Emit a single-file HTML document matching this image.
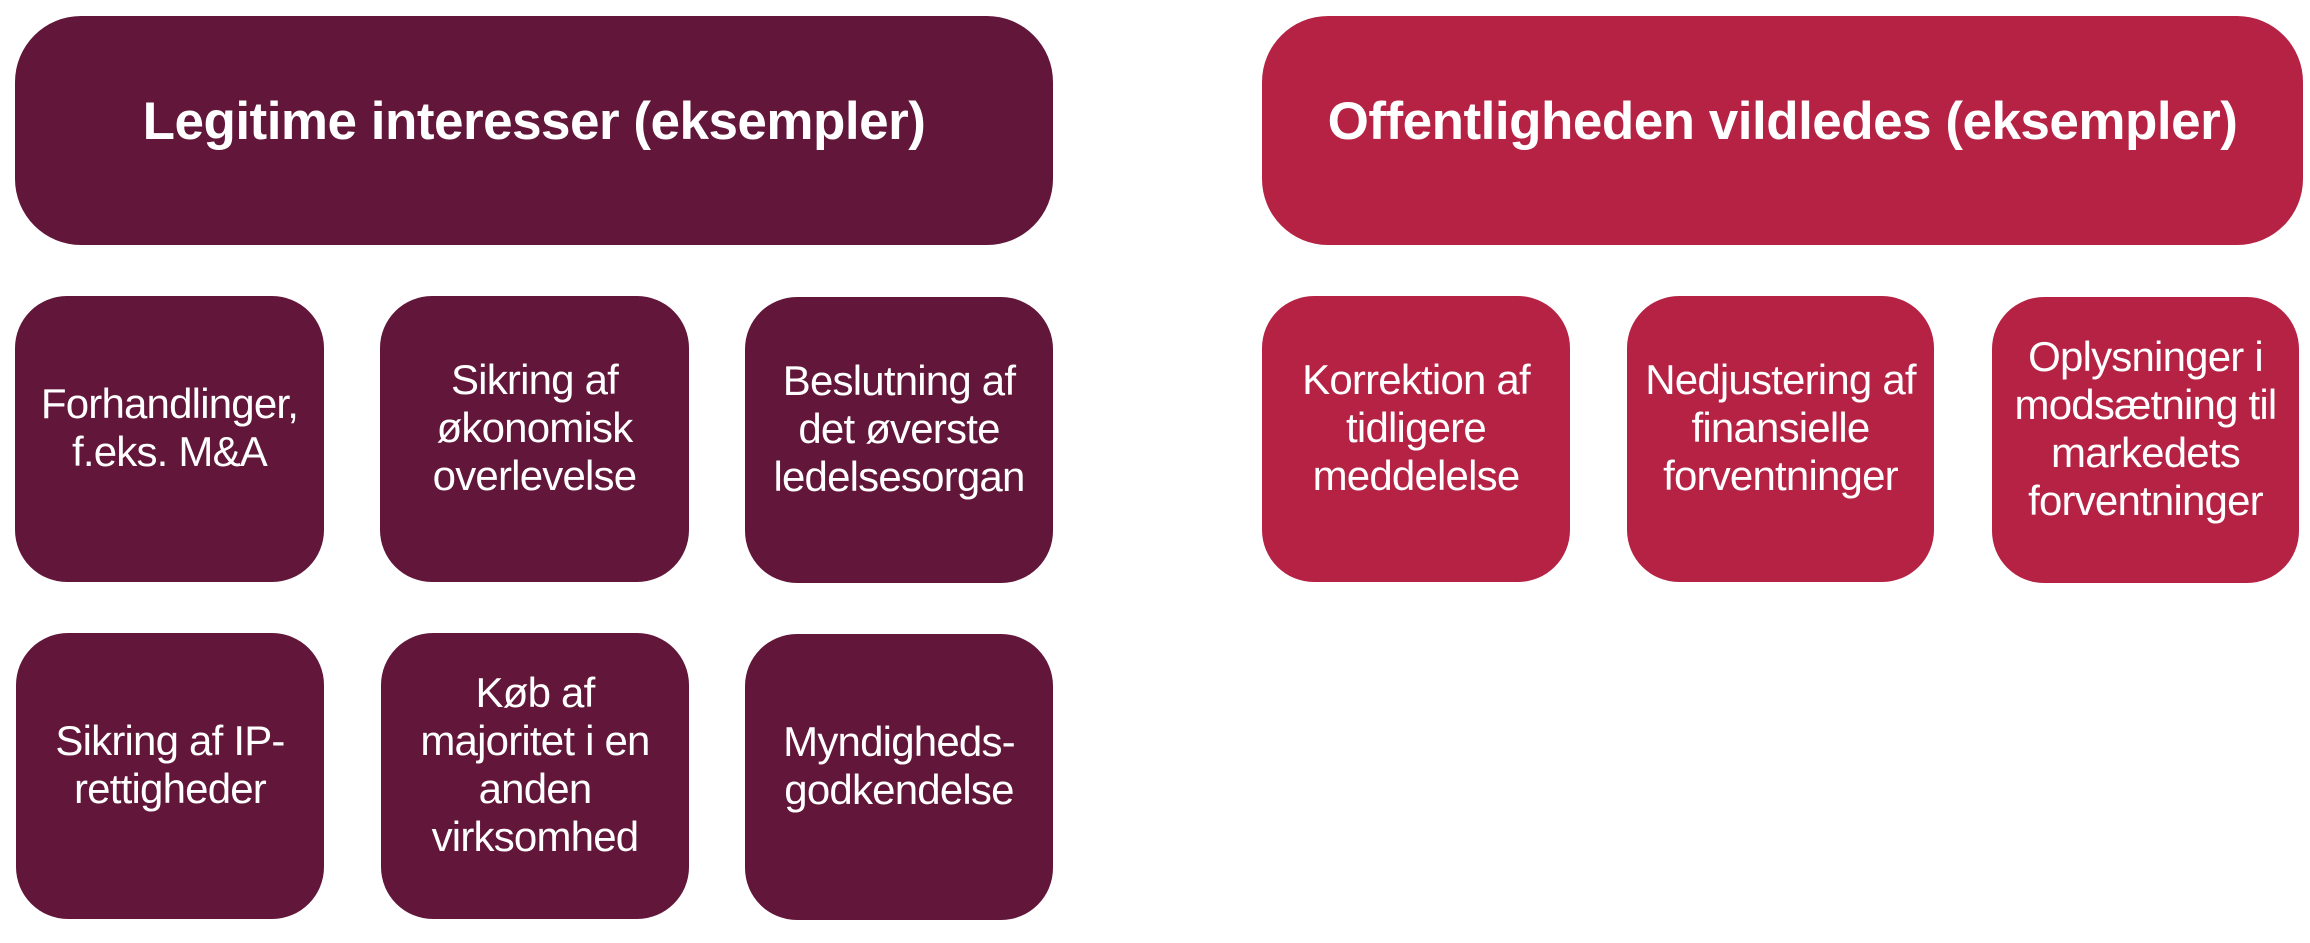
<!DOCTYPE html>
<html><head><meta charset="utf-8"><style>
body{margin:0;width:2310px;height:943px;background:#fff;position:relative;overflow:hidden;font-family:"Liberation Sans",sans-serif;}
.b{position:absolute;display:flex;align-items:center;justify-content:center;text-align:center;color:#fff;box-sizing:border-box;}
.d{background:#62163a}.r{background:#b52244}
.h{font-weight:bold;font-size:53px;border-radius:66px;padding-bottom:18px;letter-spacing:-0.5px;white-space:nowrap}
.s{font-size:42px;line-height:48px;border-radius:52px;padding:0 6px 22px 6px;letter-spacing:-0.8px;white-space:nowrap}
</style></head><body>
<div class="b d h" style="left:15px;top:16px;width:1038px;height:229px">Legitime interesser (eksempler)</div>
<div class="b r h" style="left:1262px;top:16px;width:1041px;height:229px">Offentligheden vildledes (eksempler)</div>

<div class="b d s" style="left:15px;top:296px;width:309px;height:286px">Forhandlinger,<br>f.eks. M&amp;A</div>
<div class="b d s" style="left:380px;top:296px;width:309px;height:286px">Sikring af<br>økonomisk<br>overlevelse</div>
<div class="b d s" style="left:745px;top:297px;width:308px;height:286px">Beslutning af<br>det øverste<br>ledelsesorgan</div>

<div class="b d s" style="left:16px;top:633px;width:308px;height:286px">Sikring af IP-<br>rettigheder</div>
<div class="b d s" style="left:381px;top:633px;width:308px;height:286px">Køb af<br>majoritet i en<br>anden<br>virksomhed</div>
<div class="b d s" style="left:745px;top:634px;width:308px;height:286px">Myndigheds-<br>godkendelse</div>

<div class="b r s" style="left:1262px;top:296px;width:308px;height:286px">Korrektion af<br>tidligere<br>meddelelse</div>
<div class="b r s" style="left:1627px;top:296px;width:307px;height:286px">Nedjustering af<br>finansielle<br>forventninger</div>
<div class="b r s" style="left:1992px;top:297px;width:307px;height:286px">Oplysninger i<br>modsætning til<br>markedets<br>forventninger</div>
</body></html>
